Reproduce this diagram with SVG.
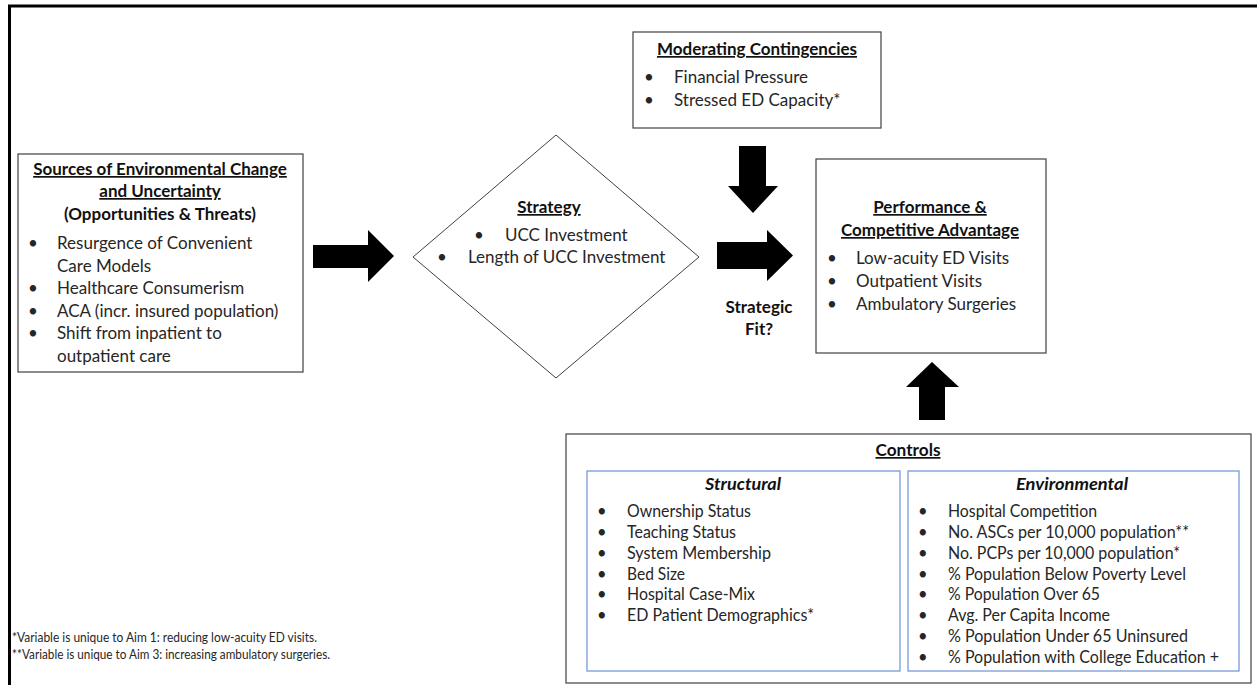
<svg xmlns="http://www.w3.org/2000/svg" width="1257" height="685" viewBox="0 0 1257 685">
<defs>
<style>
.box{fill:#fff;stroke:#404040;stroke-width:1.2}
.blue{fill:#fff;stroke:#7a9ad8;stroke-width:1.3}
.t{font-family:Lato,"Liberation Sans",sans-serif;font-size:17px;fill:#262626}
.h{font-family:Lato,"Liberation Sans",sans-serif;font-size:17px;font-weight:bold;fill:#111;text-anchor:middle}
.u{text-decoration:underline}
.c{font-family:Lato,"Liberation Sans",sans-serif;font-size:16.5px;fill:#262626}
.ch{font-family:Lato,"Liberation Sans",sans-serif;font-size:17px;font-weight:bold;font-style:italic;fill:#111;text-anchor:middle}
.fn{font-family:Lato,"Liberation Sans",sans-serif;font-size:13px;fill:#262626}
.arr{fill:#000}
</style>
</defs>
<rect width="1257" height="685" fill="#fff"/>
<g id="frame">
<path d="M9.5,685 V6 H1257" fill="none" stroke="#000" stroke-width="3"/>
</g>

<g id="sources">
<rect class="box" x="18" y="154" width="285" height="218"/>
<text class="h u" x="160" y="175">Sources of Environmental Change</text>
<text class="h u" x="160" y="197">and Uncertainty</text>
<text class="h" x="160" y="220">(Opportunities &amp; Threats)</text>
<text class="t" x="28" y="249">•</text><text class="t" x="57" y="249">Resurgence of Convenient</text>
<text class="t" x="57" y="271.5">Care Models</text>
<text class="t" x="28" y="294">•</text><text class="t" x="57" y="294">Healthcare Consumerism</text>
<text class="t" x="28" y="316.5">•</text><text class="t" x="57" y="316.5">ACA (incr. insured population)</text>
<text class="t" x="28" y="339">•</text><text class="t" x="57" y="339">Shift from inpatient to</text>
<text class="t" x="57" y="361.5">outpatient care</text>
</g>

<g id="strategy">
<polygon points="556,135 699,257 556,378 413,257" fill="#fff" stroke="#404040" stroke-width="1"/>
<text class="h u" x="549" y="213">Strategy</text>
<text class="t" x="474" y="241">•</text><text class="t" x="505" y="241">UCC Investment</text>
<text class="t" x="437" y="263">•</text><text class="t" x="468" y="263">Length of UCC Investment</text>
</g>

<g id="moderating">
<rect class="box" x="633" y="32" width="248" height="96"/>
<text class="h u" x="757" y="55">Moderating Contingencies</text>
<text class="t" x="644" y="83">•</text><text class="t" x="674" y="83">Financial Pressure</text>
<text class="t" x="644" y="106">•</text><text class="t" x="674" y="106">Stressed ED Capacity*</text>
</g>

<g id="fit-label">
<text class="h" x="759" y="313">Strategic</text>
<text class="h" x="759" y="335">Fit?</text>
</g>

<g id="performance">
<rect class="box" x="816" y="159" width="230" height="194"/>
<text class="h u" x="930" y="213">Performance &amp;</text>
<text class="h u" x="930" y="236">Competitive Advantage</text>
<text class="t" x="827" y="264">•</text><text class="t" x="856" y="264">Low-acuity ED Visits</text>
<text class="t" x="827" y="287">•</text><text class="t" x="856" y="287">Outpatient Visits</text>
<text class="t" x="827" y="310">•</text><text class="t" x="856" y="310">Ambulatory Surgeries</text>
</g>

<g id="controls">
<rect class="box" x="566" y="434" width="685" height="249"/>
<text class="h u" x="908" y="456" textLength="65" lengthAdjust="spacingAndGlyphs">Controls</text>
<g id="structural">
<rect class="blue" x="587" y="471" width="313" height="200"/>
<text class="ch" x="743" y="490" textLength="76" lengthAdjust="spacingAndGlyphs">Structural</text>
<text class="c" x="597" y="517">•</text><text class="c" x="627" y="517" textLength="124" lengthAdjust="spacingAndGlyphs">Ownership Status</text>
<text class="c" x="597" y="537.5">•</text><text class="c" x="627" y="537.5" textLength="109" lengthAdjust="spacingAndGlyphs">Teaching Status</text>
<text class="c" x="597" y="558.5">•</text><text class="c" x="627" y="558.5" textLength="144" lengthAdjust="spacingAndGlyphs">System Membership</text>
<text class="c" x="597" y="579.5">•</text><text class="c" x="627" y="579.5" textLength="58" lengthAdjust="spacingAndGlyphs">Bed Size</text>
<text class="c" x="597" y="600">•</text><text class="c" x="627" y="600" textLength="128" lengthAdjust="spacingAndGlyphs">Hospital Case-Mix</text>
<text class="c" x="597" y="621">•</text><text class="c" x="627" y="621" textLength="187" lengthAdjust="spacingAndGlyphs">ED Patient Demographics*</text>
</g>
<g id="environmental">
<rect class="blue" x="908" y="471" width="331" height="200"/>
<text class="ch" x="1072" y="490" textLength="112" lengthAdjust="spacingAndGlyphs">Environmental</text>
<text class="c" x="918" y="517">•</text><text class="c" x="948" y="517" textLength="149" lengthAdjust="spacingAndGlyphs">Hospital Competition</text>
<text class="c" x="918" y="537.5">•</text><text class="c" x="948" y="537.5" textLength="241" lengthAdjust="spacingAndGlyphs">No. ASCs per 10,000 population**</text>
<text class="c" x="918" y="558.5">•</text><text class="c" x="948" y="558.5" textLength="232" lengthAdjust="spacingAndGlyphs">No. PCPs per 10,000 population*</text>
<text class="c" x="918" y="579.5">•</text><text class="c" x="948" y="579.5" textLength="238" lengthAdjust="spacingAndGlyphs">% Population Below Poverty Level</text>
<text class="c" x="918" y="600">•</text><text class="c" x="948" y="600" textLength="152" lengthAdjust="spacingAndGlyphs">% Population Over 65</text>
<text class="c" x="918" y="621">•</text><text class="c" x="948" y="621" textLength="162" lengthAdjust="spacingAndGlyphs">Avg. Per Capita Income</text>
<text class="c" x="918" y="642">•</text><text class="c" x="948" y="642" textLength="240" lengthAdjust="spacingAndGlyphs">% Population Under 65 Uninsured</text>
<text class="c" x="918" y="663">•</text><text class="c" x="948" y="663" textLength="271" lengthAdjust="spacingAndGlyphs">% Population with College Education +</text>
</g>
</g>

<g id="footnotes">
<text class="fn" x="12" y="642" textLength="305" lengthAdjust="spacingAndGlyphs">*Variable is unique to Aim 1: reducing low-acuity ED visits.</text>
<text class="fn" x="12" y="659" textLength="318" lengthAdjust="spacingAndGlyphs">**Variable is unique to Aim 3: increasing ambulatory surgeries.</text>
</g>

<g id="connectors">
<polygon class="arr" points="313,245 368,245 368,230 394,256 368,282 368,268 313,268"/>
<polygon class="arr" points="717,242 767,242 767,230 793,255.5 767,281 767,269 717,269"/>
<polygon class="arr" points="739,146 766,146 766,186 778,186 753,213 728,186 739,186"/>
<polygon class="arr" points="932,362 959,387 945,387 945,420 919,420 919,387 906,387"/>
</g>
</svg>
